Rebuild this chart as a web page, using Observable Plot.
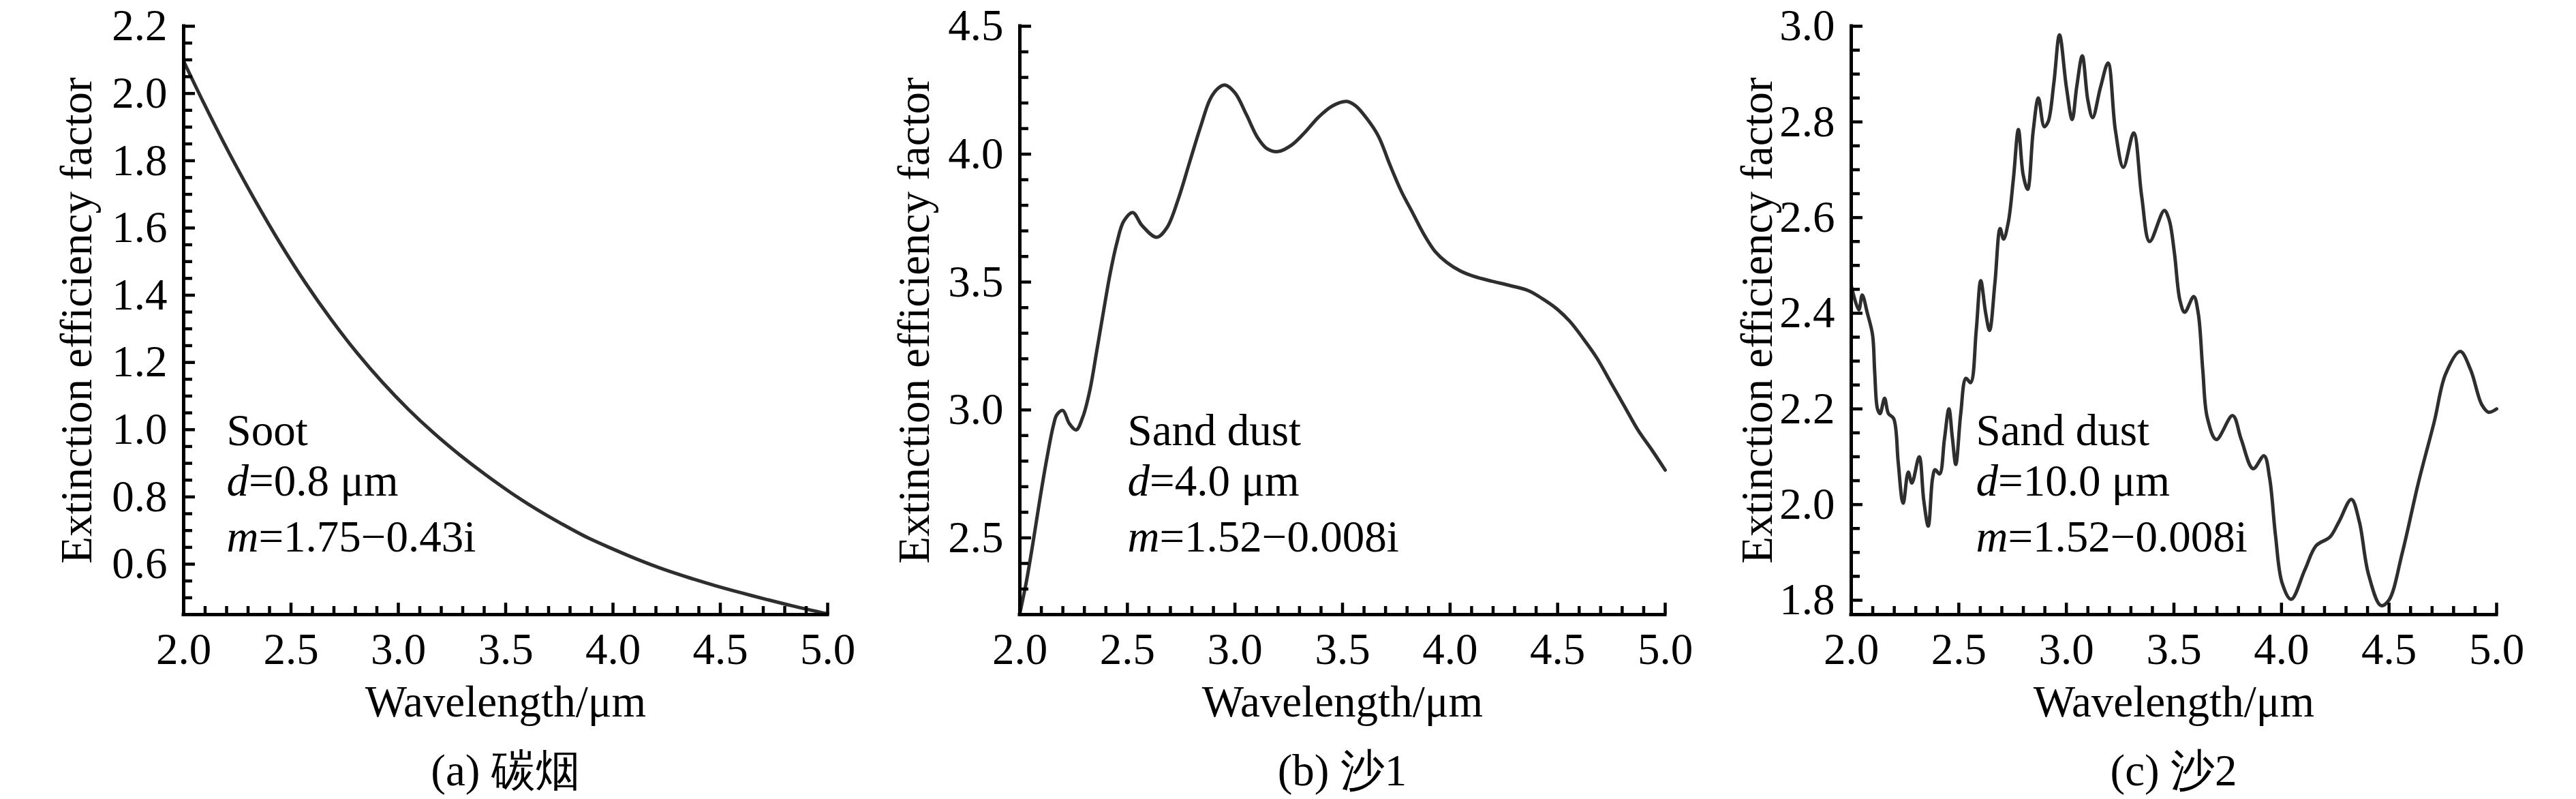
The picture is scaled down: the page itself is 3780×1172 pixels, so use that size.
<!DOCTYPE html>
<html>
<head>
<meta charset="utf-8">
<script src="https://cdn.jsdelivr.net/npm/d3@7"></script>
<script src="https://cdn.jsdelivr.net/npm/@observablehq/plot@0.6"></script>
<style>
html, body { margin: 0; padding: 0; background: #fff; }
#root { position: relative; width: 3780px; height: 1172px; overflow: hidden; }
.panel { position: absolute; top: 0; width: 1260px; }
.caption { font-family: "Liberation Serif", "Times New Roman", serif; font-size: 65px; line-height: 82px; height: 82px; text-align: center; white-space: nowrap; color: #000; }
</style>
</head>
<body>
<div id="root"></div>
<script>
// ---------- data ----------
const wavelengthA = [2.0, 2.091, 2.211, 2.33, 2.449, 2.569, 2.688, 2.807, 2.926, 3.046, 3.165, 3.284, 3.404, 3.523, 3.642, 3.761, 3.881, 4.0, 4.119, 4.239, 4.358, 4.477, 4.596, 4.716, 4.835, 5.0];
const sootQext    = [2.096, 1.975, 1.824, 1.685, 1.555, 1.435, 1.327, 1.229, 1.141, 1.061, 0.99, 0.926, 0.867, 0.813, 0.764, 0.72, 0.679, 0.645, 0.613, 0.584, 0.559, 0.536, 0.515, 0.495, 0.476, 0.452];

const wavelengthB = [2.0, 2.03, 2.061, 2.093, 2.124, 2.156, 2.172, 2.2, 2.23, 2.262, 2.293, 2.325, 2.357, 2.388, 2.42, 2.451, 2.483, 2.525, 2.568, 2.636, 2.684, 2.736, 2.789, 2.842, 2.884, 2.921, 2.953, 3.0, 3.053, 3.105, 3.148, 3.2, 3.264, 3.327, 3.39, 3.454, 3.519, 3.561, 3.614, 3.667, 3.72, 3.772, 3.825, 3.878, 3.931, 3.984, 4.048, 4.111, 4.196, 4.28, 4.365, 4.429, 4.492, 4.556, 4.619, 4.683, 4.746, 4.81, 4.873, 4.937, 5.0];
const sand1Qext   = [2.205, 2.327, 2.48, 2.65, 2.803, 2.939, 2.981, 2.998, 2.947, 2.922, 2.973, 3.075, 3.228, 3.381, 3.534, 3.653, 3.738, 3.772, 3.721, 3.675, 3.713, 3.823, 3.968, 4.112, 4.214, 4.257, 4.27, 4.24, 4.155, 4.065, 4.022, 4.01, 4.036, 4.087, 4.146, 4.189, 4.206, 4.189, 4.138, 4.07, 3.959, 3.857, 3.772, 3.687, 3.619, 3.577, 3.543, 3.522, 3.503, 3.486, 3.466, 3.435, 3.398, 3.347, 3.279, 3.202, 3.109, 3.015, 2.922, 2.845, 2.765];

const wavelengthC = [2.0, 2.035, 2.051, 2.075, 2.099, 2.109, 2.122, 2.134, 2.155, 2.173, 2.197, 2.218, 2.236, 2.242, 2.265, 2.282, 2.316, 2.337, 2.358, 2.378, 2.39, 2.411, 2.433, 2.454, 2.47, 2.486, 2.509, 2.533, 2.555, 2.581, 2.602, 2.625, 2.643, 2.668, 2.692, 2.708, 2.73, 2.754, 2.777, 2.799, 2.82, 2.846, 2.87, 2.897, 2.915, 2.942, 2.968, 3.0, 3.027, 3.048, 3.074, 3.1, 3.122, 3.159, 3.194, 3.228, 3.265, 3.313, 3.35, 3.387, 3.455, 3.478, 3.502, 3.528, 3.55, 3.592, 3.613, 3.634, 3.655, 3.697, 3.773, 3.813, 3.868, 3.919, 3.945, 3.972, 4.003, 4.045, 4.109, 4.161, 4.225, 4.267, 4.325, 4.362, 4.404, 4.462, 4.499, 4.562, 4.636, 4.71, 4.763, 4.831, 4.879, 4.931, 4.963, 5.0];
const sand2Qext   = [2.458, 2.407, 2.438, 2.40, 2.355, 2.277, 2.20, 2.19, 2.222, 2.19, 2.18, 2.09, 2.01, 2.003, 2.068, 2.045, 2.10, 2.009, 1.955, 2.055, 2.073, 2.064, 2.136, 2.20, 2.14, 2.084, 2.19, 2.264, 2.255, 2.364, 2.468, 2.40, 2.364, 2.464, 2.577, 2.555, 2.59, 2.682, 2.784, 2.69, 2.659, 2.782, 2.85, 2.79, 2.80, 2.882, 2.982, 2.873, 2.805, 2.873, 2.938, 2.845, 2.809, 2.873, 2.923, 2.782, 2.705, 2.777, 2.645, 2.55, 2.615, 2.595, 2.527, 2.427, 2.402, 2.435, 2.40, 2.282, 2.182, 2.136, 2.186, 2.136, 2.075, 2.102, 2.055, 1.936, 1.836, 1.802, 1.864, 1.914, 1.932, 1.964, 2.011, 1.964, 1.855, 1.789, 1.80, 1.90, 2.045, 2.173, 2.273, 2.32, 2.282, 2.209, 2.193, 2.20];

// ---------- ticks ----------
const xMajorTicks = [2.0, 2.5, 3.0, 3.5, 4.0, 4.5, 5.0];
const xMinorTicks = [2.1, 2.2, 2.3, 2.4, 2.6, 2.7, 2.8, 2.9, 3.1, 3.2, 3.3, 3.4, 3.6, 3.7, 3.8, 3.9, 4.1, 4.2, 4.3, 4.4, 4.6, 4.7, 4.8, 4.9];
const yMajorA = [0.6, 0.8, 1.0, 1.2, 1.4, 1.6, 1.8, 2.0, 2.2];
const yMinorA = [0.5, 0.55, 0.65, 0.7, 0.75, 0.85, 0.9, 0.95, 1.05, 1.1, 1.15, 1.25, 1.3, 1.35, 1.45, 1.5, 1.55, 1.65, 1.7, 1.75, 1.85, 1.9, 1.95, 2.05, 2.1, 2.15];
const yMajorB = [2.5, 3.0, 3.5, 4.0, 4.5];
const yMinorB = [2.3, 2.4, 2.6, 2.7, 2.8, 2.9, 3.1, 3.2, 3.3, 3.4, 3.6, 3.7, 3.8, 3.9, 4.1, 4.2, 4.3, 4.4];
const yMajorC = [1.8, 2.0, 2.2, 2.4, 2.6, 2.8, 3.0];
const yMinorC = [1.85, 1.9, 1.95, 2.05, 2.1, 2.15, 2.25, 2.3, 2.35, 2.45, 2.5, 2.55, 2.65, 2.7, 2.75, 2.85, 2.9, 2.95];

// ---------- texts ----------
const xLabel = "Wavelength/μm";
const yLabel = "Extinction efficiency factor";
const captions = ["(a) 碳烟", "(b) 沙1", "(c) 沙2"];
const notesA = [["", "Soot"], ["d", "=0.8 μm"], ["m", "=1.75−0.43i"]];
const notesB = [["", "Sand dust"], ["d", "=4.0 μm"], ["m", "=1.52−0.008i"]];
const notesC = [["", "Sand dust"], ["d", "=10.0 μm"], ["m", "=1.52−0.008i"]];

// ---------- layout ----------
const FONT = '"Liberation Serif", "Times New Roman", serif';
const FS = 65;
const W = 1260, H = 1089, MT = 38, MB = 188;
const noteBaselines = [614, 688, 770];
const italicWidth = {"": 0, "d": 0.5 * FS, "m": 0.722 * FS};

function makePanel(cfg) {
  const plotH = H - MT - MB;
  const plotW = W - cfg.marginLeft - cfg.marginRight;
  const data = cfg.xs.map((x, i) => ({x, y: cfg.ys[i]}));
  const fmt = d3.format(".1f");
  const noteMarks = [];
  cfg.notes.forEach(([it, rest], i) => {
    if (it) noteMarks.push(Plot.text([it], {frameAnchor: "top-left", dx: cfg.noteDx, dy: noteBaselines[i], lineAnchor: "bottom", textAnchor: "start", fontFamily: FONT, fontStyle: "italic", fontSize: FS, fill: "black"}));
    noteMarks.push(Plot.text([rest], {frameAnchor: "top-left", dx: cfg.noteDx + italicWidth[it], dy: noteBaselines[i], lineAnchor: "bottom", textAnchor: "start", fontFamily: FONT, fontSize: FS, fill: "black"}));
  });
  const ax = {stroke: "black", strokeWidth: 4.5};
  return Plot.plot({
    width: W, height: H,
    marginTop: MT, marginBottom: MB, marginLeft: cfg.marginLeft, marginRight: cfg.marginRight,
    style: {fontFamily: FONT, fontSize: FS + "px", background: "white", color: "black", overflow: "visible"},
    x: {domain: [2, 5]},
    y: {domain: cfg.yDomain},
    marks: [
      Plot.line(data, {x: "x", y: "y", stroke: "#2e2e2e", strokeWidth: 5, curve: "catmull-rom"}),
      Plot.tickX(xMinorTicks, {x: d => d, insetTop: plotH - 12, ...ax}),
      Plot.tickX(xMajorTicks, {x: d => d, insetTop: plotH - 17, ...ax}),
      Plot.tickY(cfg.yMinor, {y: d => d, insetRight: plotW - 13, ...ax}),
      Plot.tickY(cfg.yMajor, {y: d => d, insetRight: plotW - 17, ...ax}),
      Plot.ruleX([2], {stroke: "black", strokeWidth: 5, strokeLinecap: "square"}),
      Plot.ruleY([cfg.yDomain[0]], {stroke: "black", strokeWidth: 5, strokeLinecap: "square"}),
      Plot.axisX(xMajorTicks, {tickSize: 0, tickPadding: 26, tickFormat: fmt, label: null, fontFamily: FONT, fontSize: FS, fill: "black"}),
      Plot.axisY(cfg.yMajor, {tickSize: 0, tickPadding: 24, tickFormat: fmt, label: null, fontFamily: FONT, fontSize: FS, fill: "black"}),
      Plot.text([xLabel], {frameAnchor: "bottom", lineAnchor: "bottom", dy: 149, fontFamily: FONT, fontSize: FS, fill: "black"}),
      Plot.text([yLabel], {frameAnchor: "left", rotate: -90, lineAnchor: "bottom", textAnchor: "middle", dx: -cfg.titleOffset, fontFamily: FONT, fontSize: FS, fill: "black"}),
      ...noteMarks
    ]
  });
}

const panels = [
  {left: 0, xs: wavelengthA, ys: sootQext, yDomain: [0.45, 2.2], yMajor: yMajorA, yMinor: yMinorA, marginLeft: 269, marginRight: 46, titleOffset: 136, notes: notesA, noteDx: 63, caption: captions[0]},
  {left: 1260, xs: wavelengthB, ys: sand1Qext, yDomain: [2.2, 4.5], yMajor: yMajorB, yMinor: yMinorB, marginLeft: 236, marginRight: 77, titleOffset: 134, notes: notesB, noteDx: 158, caption: captions[1]},
  {left: 2520, xs: wavelengthC, ys: sand2Qext, yDomain: [1.77, 3.0], yMajor: yMajorC, yMinor: yMinorC, marginLeft: 196, marginRight: 117, titleOffset: 117, notes: notesC, noteDx: 183, caption: captions[2]}
];

const root = document.getElementById("root");
for (const p of panels) {
  const div = document.createElement("div");
  div.className = "panel";
  div.style.left = p.left + "px";
  div.appendChild(makePanel(p));
  const cap = document.createElement("div");
  cap.className = "caption";
  cap.style.marginLeft = p.marginLeft + "px";
  cap.style.width = (W - p.marginLeft - p.marginRight) + "px";
  cap.textContent = p.caption;
  div.appendChild(cap);
  root.appendChild(div);
}
</script>
</body>
</html>
